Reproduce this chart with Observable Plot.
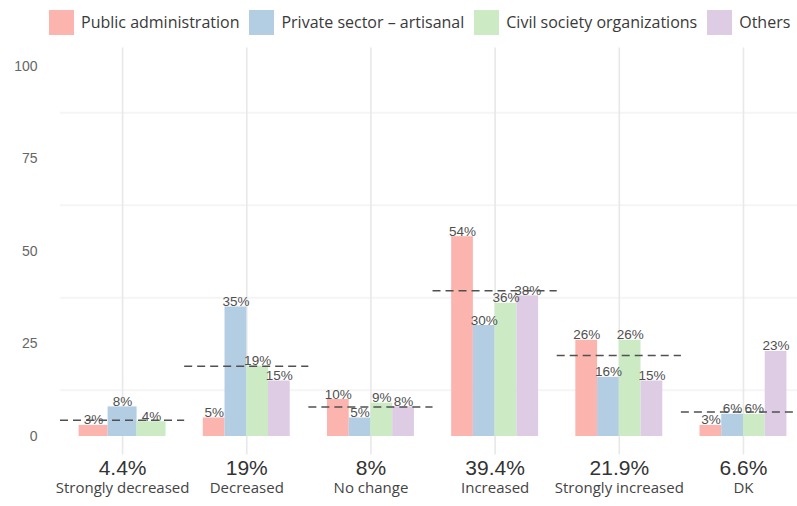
<!DOCTYPE html>
<html><head><meta charset="utf-8">
<script src="https://cdn.jsdelivr.net/npm/d3@7"></script>
<script src="https://cdn.jsdelivr.net/npm/@observablehq/plot@0.6"></script>
<style>
body{margin:0;background:#fff;width:797px;height:506px;overflow:hidden;}
#legend{height:44px;display:flex;align-items:center;padding-left:49px;font-family:"Open Sans",sans-serif;font-size:16px;color:#3a3a3a;box-sizing:border-box;}
.item{display:flex;align-items:center;margin-right:10px;white-space:nowrap;}
.sw{width:25px;height:25px;margin-right:7px;}
#chart svg{display:block;}
</style></head><body>
<div id="legend"></div><div id="chart"></div>
<script>
const categories = ["Strongly decreased","Decreased","No change","Increased","Strongly increased","DK"];
const averages = [4.4, 19, 8, 39.4, 21.9, 6.6];
const averageLabels = ["4.4%","19%","8%","39.4%","21.9%","6.6%"];
const series = ["Public administration","Private sector – artisanal","Civil society organizations","Others"];
const publicAdmin = [3, 5, 10, 54, 26, 3];
const privateSector = [8, 35, 5, 30, 16, 6];
const civilSociety = [4, 19, 9, 36, 26, 6];
const others = [null, 15, 8, 38, 15, 23];
const colors = ["#FBB4AE","#B3CDE3","#CCEBC5","#DECBE4"];
const yTicks = [0, 25, 50, 75, 100];
const minorTicks = [12.5, 37.5, 62.5, 87.5];

const seriesValues = [publicAdmin, privateSector, civilSociety, others];
const dodge = 0.7;
const rows = [];
categories.forEach((c, i) => {
  const present = series.map((s, k) => ({s, v: seriesValues[k][i]})).filter(d => d.v != null);
  const w = dodge / present.length;
  present.forEach((d, k) => {
    const x1 = i - dodge / 2 + k * w;
    rows.push({category: c, series: d.s, value: d.v, x1, x2: x1 + w, xm: x1 + w / 2});
  });
});
const avgRows = categories.map((c, i) => ({i, category: c, avg: averages[i], label: averageLabels[i]}));

// legend
const leg = document.getElementById("legend");
series.forEach((s, k) => {
  const it = document.createElement("div"); it.className = "item";
  const sw = document.createElement("div"); sw.className = "sw"; sw.style.background = colors[k];
  const tx = document.createElement("span"); tx.textContent = s;
  it.append(sw, tx); leg.append(it);
});

const chart = Plot.plot({
  width: 797,
  height: 462,
  marginTop: 3.5,
  marginBottom: 51.5,
  marginLeft: 60,
  marginRight: 0,
  style: {background: "#fff", fontFamily: "'Liberation Sans', Arial, sans-serif"},
  x: {type: "linear", domain: [-0.5, 5.435], axis: null},
  y: {domain: [-5, 105], ticks: yTicks, tickSize: 0, tickPadding: 23, label: null, tickFormat: d => d},
  color: {domain: series, range: colors},
  marks: [
    Plot.ruleY(minorTicks, {stroke: "#f5f5f5", strokeWidth: 2}),
    Plot.ruleX(d3.range(categories.length), {stroke: "#e8e8e8", strokeWidth: 1.6}),
    Plot.rect(rows, {x1: "x1", x2: "x2", y1: 0, y2: "value", fill: "series"}),
    Plot.text(rows, {x: "xm", y: "value", text: d => d.value + "%", lineAnchor: "bottom", dy: -1, fontSize: 13.5, fill: "#505050"}),
    Plot.ruleY(avgRows, {y: "avg", x1: d => d.i - 0.5, x2: d => d.i + 0.5, stroke: "#505050", strokeWidth: 1.5, strokeDasharray: "8,5"}),
    Plot.text(avgRows, {x: "i", text: "label", frameAnchor: "bottom", lineAnchor: "middle", dy: 13, fontSize: 21, fill: "#333"}),
    Plot.text(avgRows, {x: "i", text: "category", frameAnchor: "bottom", lineAnchor: "middle", dy: 33, fontSize: 15, fill: "#444", fontFamily: "'Open Sans', sans-serif"}),
    Plot.axisY({ticks: yTicks, tickSize: 0, tickPadding: 23, fontSize: 14, fill: "#666", tickFormat: d => d})
  ]
});
document.getElementById("chart").append(chart);
</script>
</body></html>
